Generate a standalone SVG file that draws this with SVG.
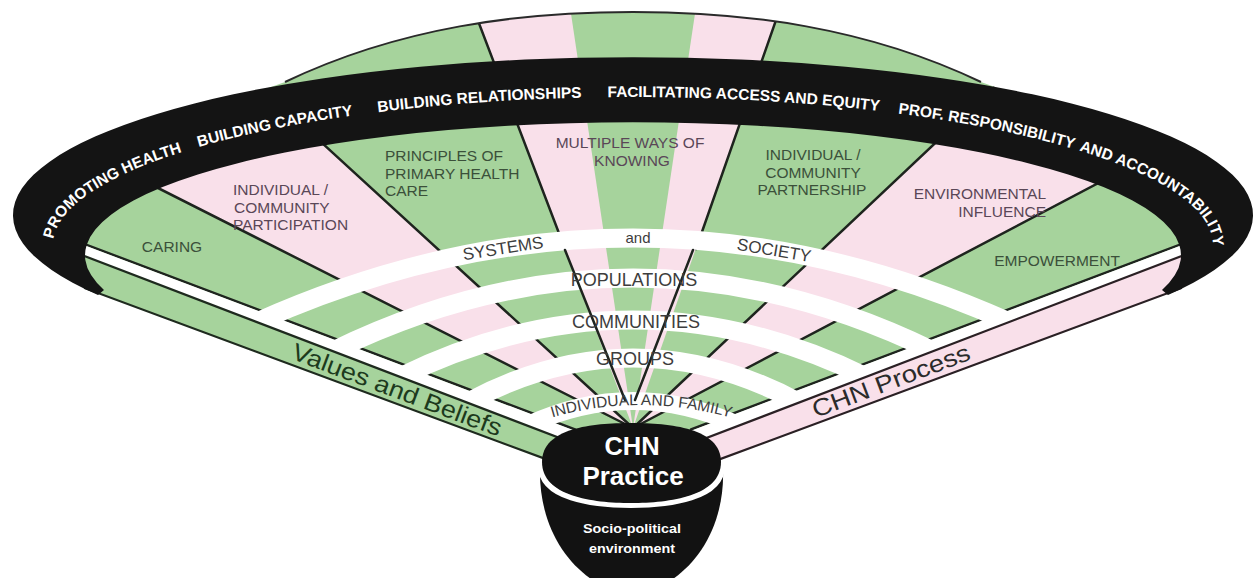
<svg xmlns="http://www.w3.org/2000/svg" width="1260" height="578" viewBox="0 0 1260 578">
<defs>
  <style>
    .g{fill:#a6d39c}
    .p{fill:#f9e0ea}
    .ray{stroke:#1e241e;stroke-width:2.5;fill:none;stroke-linecap:round}
    .band{fill:none;stroke:#ffffff;stroke-width:19}
    .lbl{font-family:"Liberation Sans",Arial,sans-serif;font-size:15.5px}
    .lg{fill:#3b503a}
    .lp{fill:#5a4757}
    .bt{font-family:"Liberation Sans",Arial,sans-serif;font-weight:bold;font-size:15.5px;fill:#ffffff}
    .lvl{font-family:"Liberation Sans",Arial,sans-serif;font-size:18px;fill:#3d3d3d}
    .strip{font-family:"Liberation Sans",Arial,sans-serif;font-size:24px}
    .cw{font-family:"Liberation Sans",Arial,sans-serif;font-weight:bold;fill:#ffffff}
  </style>
  <clipPath id="fanClip">
    <path d="M 548,460 L 98,293 L 60,230 L 150,130 L 285,82 C 400,27 520,12 633,12 C 746,12 866,27 981,82 L 1116,130 L 1206,230 L 1168,293 L 718,460 Z"/>
  </clipPath>
  <path id="bandText" d="M 60,268 A 580 148 0 1 1 1206,268"/>
  <path id="indPath" d="M 541,421 Q 638,389 742,421"/>
</defs>

<g id="fan-sectors" clip-path="url(#fanClip)">
  <rect x="0" y="0" width="1260" height="578" class="g"/>
  <polygon class="p" points="633,428 -412,-100 57,-100"/>
  <polygon class="p" points="633,428 432,-100 554,-100"/>
  <polygon class="p" points="633,428 712,-100 818,-100"/>
  <polygon class="p" points="633,428 1193,-100 1636,-100"/>
</g>

<g id="connectors">
  <g clip-path="url(#fanClip)">
    <line class="ray" x1="633" y1="428" x2="-412" y2="-100"/>
    <line class="ray" x1="633" y1="428" x2="57" y2="-100"/>
    <line class="ray" x1="565" y1="249" x2="432" y2="-100"/>
    <line class="ray" x1="696" y1="249" x2="818" y2="-100"/>
    <line class="ray" x1="633" y1="428" x2="1193" y2="-100"/>
    <line class="ray" x1="633" y1="428" x2="1636" y2="-100"/>
    <line class="ray" x1="70" y1="238.6" x2="575" y2="429.5"/>
    <line class="ray" x1="1196" y1="238.6" x2="691" y2="429.5"/>
  </g>
</g>

<g id="levels">
  <polygon fill="#ffffff" points="70,239.8 575,430.7 575,444 70,252.5"/>
  <polygon fill="#ffffff" points="1196,239.8 691,430.7 691,444 1196,252.5"/>
  <path class="band" d="M 257,322 Q 633,154 1009,322"/>
  <path class="band" d="M 333,351 Q 633,205 933,351"/>
  <path class="band" d="M 400,377 Q 633,263 866,377"/>
  <path class="band" d="M 467,402.5 Q 633,313.5 799,402.5"/>
  <path class="band" d="M 527,425.5 Q 633,376.5 739,425.5" style="stroke-width:18"/>
  <line class="ray" x1="565" y1="250" x2="625" y2="400"/>
  <line class="ray" x1="693" y1="250" x2="635" y2="400"/>
</g>

<g id="values-strip">
  <polygon points="70,250.5 570,442 552,461.4 85,288.2" fill="#a6d39c" stroke="#1e2a1e" stroke-width="2.2"/>
  <text class="strip" fill="#1d3a1d" transform="translate(397,390) rotate(20.65)" x="0" y="8" text-anchor="middle" textLength="222" lengthAdjust="spacingAndGlyphs">Values and Beliefs</text>
</g>

<g id="process-strip">
  <polygon points="1196,250.5 696,442 714,461.4 1181,288.2" fill="#f9e0ea" stroke="#2a2024" stroke-width="2.2"/>
  <text class="strip" fill="#2b2b2b" transform="translate(891,381) rotate(-20.65)" x="0" y="8" text-anchor="middle" textLength="167" lengthAdjust="spacingAndGlyphs">CHN Process</text>
</g>

<g id="outer-band">
  <path d="M 285,82 C 400,27 520,12 633,12 C 746,12 866,27 981,82" fill="none" stroke="#2a2a2a" stroke-width="2"/>
  <path d="M 98,295 A 620 158 0 1 1 1168,295 L 1162,290 A 548 133 0 1 0 104,290 Z" fill="#141414"/>
  <text class="bt" text-anchor="middle"><textPath href="#bandText" startOffset="111">PROMOTING HEALTH</textPath></text>
  <text class="bt" text-anchor="middle"><textPath href="#bandText" startOffset="288">BUILDING CAPACITY</textPath></text>
  <text class="bt" text-anchor="middle"><textPath href="#bandText" startOffset="494">BUILDING RELATIONSHIPS</textPath></text>
  <text class="bt" text-anchor="middle"><textPath href="#bandText" startOffset="758">FACILITATING ACCESS AND EQUITY</textPath></text>
  <text class="bt"><textPath href="#bandText" startOffset="913">PROF. RESPONSIBILITY</textPath></text>
  <text class="bt"><textPath href="#bandText" startOffset="1098">AND ACCOUNTABILITY</textPath></text>
</g>

<g id="sector-labels" class="lbl">
  <text class="lg" x="172" y="252" text-anchor="middle">CARING</text>
  <text class="lp"><tspan x="233" y="195">INDIVIDUAL /</tspan><tspan x="234" y="212.5">COMMUNITY</tspan><tspan x="233" y="230">PARTICIPATION</tspan></text>
  <text class="lg"><tspan x="385" y="161">PRINCIPLES OF</tspan><tspan x="385" y="178.5">PRIMARY HEALTH</tspan><tspan x="385" y="196">CARE</tspan></text>
  <text class="lp" text-anchor="middle"><tspan x="630" y="148">MULTIPLE WAYS OF</tspan><tspan x="632" y="165.5">KNOWING</tspan></text>
  <text class="lg" text-anchor="middle"><tspan x="813" y="160">INDIVIDUAL /</tspan><tspan x="813" y="177.5">COMMUNITY</tspan><tspan x="812" y="195">PARTNERSHIP</tspan></text>
  <text class="lp" text-anchor="end"><tspan x="1046" y="199">ENVIRONMENTAL</tspan><tspan x="1046" y="216.5">INFLUENCE</tspan></text>
  <text class="lg" x="1057" y="266" text-anchor="middle">EMPOWERMENT</text>
</g>

<g id="level-labels" class="lvl">
  <text transform="translate(503,248) rotate(-8.8)" x="0" y="6" text-anchor="middle" style="font-size:17px">SYSTEMS</text>
  <text x="638" y="243" text-anchor="middle" style="font-size:15px">and</text>
  <text transform="translate(774,250) rotate(9.5)" x="0" y="6" text-anchor="middle" style="font-size:17px">SOCIETY</text>
  <text x="634" y="286" text-anchor="middle">POPULATIONS</text>
  <text x="636" y="328" text-anchor="middle">COMMUNITIES</text>
  <text x="635" y="365" text-anchor="middle">GROUPS</text>
  <text text-anchor="middle" style="font-size:15.5px"><textPath href="#indPath" startOffset="50%">INDIVIDUAL AND FAMILY</textPath></text>
</g>

<g id="chn-practice">
  <path d="M 540,468 C 538,545 590,592 632,594 C 674,592 726,545 723,468 Z" fill="#121212"/>
  <path d="M 541,466 C 541,498 592,505 631,505 C 670,505 722,498 722,466" fill="none" stroke="#ffffff" stroke-width="6"/>
  <path d="M 542,462 C 542,428 592,423 631,423 C 670,423 721,428 721,462 C 721,496 670,503 631,503 C 592,503 542,496 542,462 Z" fill="#121212"/>
  <text class="cw" x="632" y="455" text-anchor="middle" style="font-size:25.5px">CHN</text>
  <text class="cw" x="633" y="485" text-anchor="middle" style="font-size:26px">Practice</text>
  <text class="cw" x="632" y="533" text-anchor="middle" textLength="98" lengthAdjust="spacingAndGlyphs" style="font-size:13px">Socio-political</text>
  <text class="cw" x="632" y="553" text-anchor="middle" textLength="86" lengthAdjust="spacingAndGlyphs" style="font-size:13px">environment</text>
</g>
</svg>
